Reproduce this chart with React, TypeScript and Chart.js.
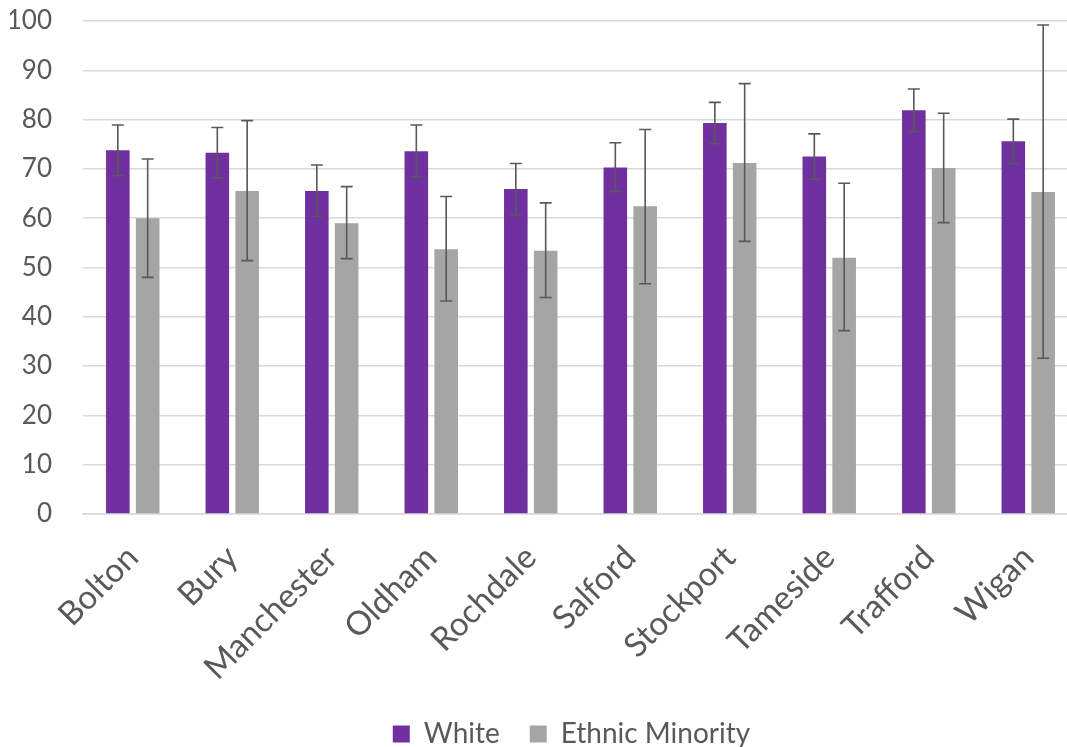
import React, { useEffect, useRef } from "react";
import { Chart, registerables } from "chart.js";

Chart.register(...registerables);

const categories = ["Bolton", "Bury", "Manchester", "Oldham", "Rochdale", "Salford", "Stockport", "Tameside", "Trafford", "Wigan"];
const whiteValues = [73.8, 73.3, 65.5, 73.6, 65.9, 70.3, 79.3, 72.5, 81.9, 75.6];
const whiteLow = [68.6, 68.2, 60.4, 68.4, 60.7, 65.4, 75.1, 67.9, 77.6, 71.1];
const whiteHigh = [78.9, 78.4, 70.8, 78.9, 71.1, 75.3, 83.5, 77.1, 86.2, 80.1];
const minorityValues = [60.0, 65.5, 59.0, 53.7, 53.4, 62.4, 71.2, 52.0, 70.2, 65.3];
const minorityLow = [48.0, 51.4, 51.8, 43.2, 43.9, 46.7, 55.3, 37.2, 59.1, 31.6];
const minorityHigh = [72.0, 79.8, 66.4, 64.4, 63.1, 78.0, 87.3, 67.1, 81.3, 99.2];
const yTicks = [0, 10, 20, 30, 40, 50, 60, 70, 80, 90, 100];

const lows = [whiteLow, minorityLow];
const highs = [whiteHigh, minorityHigh];

const errorBarPlugin = {
  id: "errorBars",
  afterLayout(chart: any) {
    if (chart.legend) {
      chart.legend.left -= 9;
      chart.legend.right -= 9;
    }
  },
  afterDatasetsDraw(chart: any) {
    const ctx = chart.ctx;
    const yScale = chart.scales.y;
    ctx.save();
    ctx.strokeStyle = "#595959";
    ctx.lineWidth = 1.6;
    chart.data.datasets.forEach((_: any, di: number) => {
      const meta = chart.getDatasetMeta(di);
      meta.data.forEach((el: any, j: number) => {
        const x = el.x;
        const yH = yScale.getPixelForValue(highs[di][j]);
        const yL = yScale.getPixelForValue(lows[di][j]);
        const cap = 6;
        ctx.beginPath();
        ctx.moveTo(x, yH);
        ctx.lineTo(x, yL);
        ctx.moveTo(x - cap, yH);
        ctx.lineTo(x + cap, yH);
        ctx.moveTo(x - cap, yL);
        ctx.lineTo(x + cap, yL);
        ctx.stroke();
      });
    });
    ctx.restore();
  },
};

export default function App() {
  const ref = useRef<HTMLCanvasElement | null>(null);
  useEffect(() => {
    if (!ref.current) return;
    const chart = new Chart(ref.current, {
      type: "bar",
      data: {
        labels: categories,
        datasets: [
          { label: "White", data: whiteValues, backgroundColor: "#7030a0", categoryPercentage: 0.6, barPercentage: 0.79 },
          { label: "Ethnic Minority", data: minorityValues, backgroundColor: "#a5a5a5", categoryPercentage: 0.6, barPercentage: 0.79 },
        ],
      },
      options: {
        animation: false,
        responsive: true,
        maintainAspectRatio: false,
        layout: { padding: { left: 10, right: 0, top: 21, bottom: 0 } },
        scales: {
          x: {
            grid: { display: false, drawTicks: false },
            border: { display: true, color: "#d9d9d9", width: 1.5 },
            ticks: {
              color: "#595959",
              font: { family: "Lato", size: 33 },
              maxRotation: 45,
              minRotation: 45,
              padding: 24,
              autoSkip: false,
            },
            afterFit: (scale: any) => {
              scale.paddingLeft = 0;
              scale.paddingRight = 0;
              scale.height = 176;
            },
          },
          y: {
            min: 0,
            max: 100,
            afterBuildTicks: (axis: any) => {
              axis.ticks = yTicks.map((v) => ({ value: v }));
            },
            grid: { color: "#d9d9d9", lineWidth: 1.5, drawTicks: false },
            border: { display: false },
            ticks: {
              color: "#595959",
              font: { family: "Lato", size: 26 },
              padding: 31,
            },
            afterFit: (scale: any) => {
              scale.paddingTop = 0;
              scale.paddingBottom = 0;
              scale.width = 73;
            },
          },
        },
        plugins: {
          legend: {
            position: "bottom",
            fullSize: false,
            labels: {
              color: "#595959",
              font: { family: "Lato", size: 28 },
              boxWidth: 17,
              boxHeight: 17,
              padding: 30,
            },
          },
          tooltip: { enabled: false },
        },
      },
      plugins: [errorBarPlugin],
    });
    return () => chart.destroy();
  }, []);
  return (
    <div style={{ position: "absolute", left: 0, top: 0, width: 1067, height: 747, overflow: "hidden", background: "#fff" }}>
      <div style={{ position: "relative", width: 1078, height: 758 }}>
        <canvas ref={ref} />
      </div>
    </div>
  );
}
